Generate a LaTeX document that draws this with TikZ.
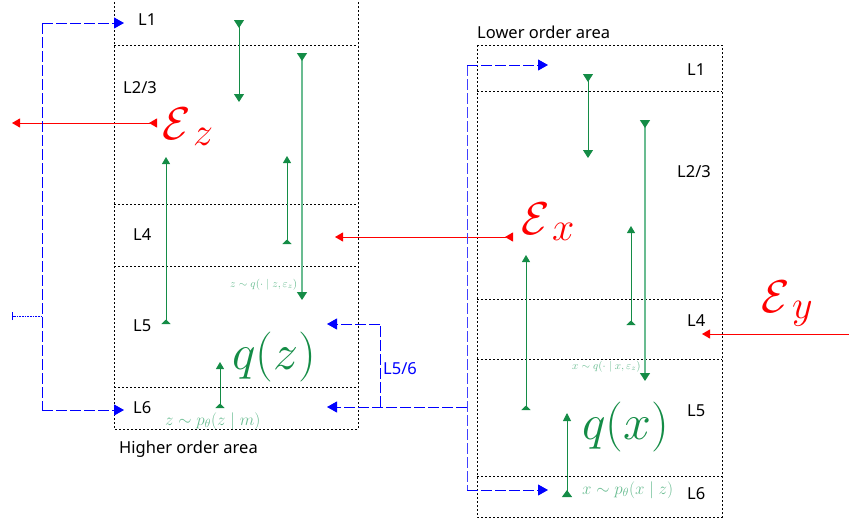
\RequirePackage{fix-cm}
\documentclass[tikz,border=0pt]{standalone}
\usepackage{fontspec}
\setmainfont{Noto Sans}
\usetikzlibrary{arrows.meta}
\definecolor{dg}{RGB}{20,140,70}
\definecolor{lg}{RGB}{105,188,145}
\definecolor{bl}{RGB}{0,0,255}
\definecolor{rd}{RGB}{255,0,0}
\DeclareMathSizes{46}{46}{40}{30}
\DeclareMathSizes{50}{50}{35}{25}
\begin{document}
\begin{tikzpicture}[x=1pt,y=-1pt,
  box/.style={draw=black, line width=0.8pt, dash pattern=on 2pt off 2pt},
  lab/.style={anchor=base west, inner sep=0pt, font=\fontsize{16.5}{19}\selectfont},
  bigm/.style={anchor=base west, inner sep=0pt, font=\fontsize{46}{50}\selectfont, text=rd},
  qm/.style={anchor=base west, inner sep=0pt, font=\fontsize{50}{55}\selectfont, text=dg},
  pm/.style={anchor=base west, inner sep=0pt, font=\fontsize{17}{19}\selectfont, text=lg},
  tm/.style={anchor=base west, inner sep=0pt, font=\fontsize{11}{12}\selectfont, text=lg},
  gdown/.style={draw=dg, line width=1pt, {Triangle[reversed,width=10pt,length=8pt,color=dg]}-{Triangle[width=10pt,length=8pt,color=dg]}},
  gdownl/.style={draw=lg, line width=1.3pt, {Triangle[reversed,width=10pt,length=8pt,color=dg]}-{Triangle[width=10pt,length=8pt,color=dg]}},
  gup/.style={draw=dg, line width=1pt, {Triangle[reversed,width=9pt,length=4.5pt,color=dg]}-{Triangle[width=8pt,length=7pt,color=dg]}},
  gupb/.style={draw=dg, line width=1pt, {Triangle[reversed,width=10pt,length=7pt,color=dg]}-{Triangle[width=8pt,length=8pt,color=dg]}},
  rarr/.style={draw=rd, line width=1pt, {Triangle[reversed,width=9pt,length=8pt]}-{Triangle[width=9pt,length=8pt]}},
  rarr1/.style={draw=rd, line width=1pt, -{Triangle[width=9pt,length=8pt]}},
  bline/.style={draw=bl, line width=1pt, dash pattern=on 11pt off 3pt},
  barr/.style={bline, -{Triangle[width=11pt,length=10pt]}},
]
\useasboundingbox (0,0) rectangle (849,520);

% ---------- Higher order area boxes ----------
\draw[box] (114,-2) rectangle (358,429);
\draw[box] (114,45) -- (358,45);
\draw[box] (114,204) -- (358,204);
\draw[box] (114,266) -- (358,266);
\draw[box] (114,387) -- (358,387);

\node[lab] (hL1) at (138,25) {L1};
\node[lab] (hL23) at (123,93) {L2/3};
\node[lab] (hL4) at (133,240) {L4};
\node[lab] (hL5) at (133,331) {L5};
\node[lab] (hL6) at (133,413) {L6};
\node[lab] (hname) at (119,453) {Higher order area};

% ---------- Lower order area boxes ----------
\draw[box] (477,45) rectangle (722,517);
\draw[box] (477,91) -- (722,91);
\draw[box] (477,299) -- (722,299);
\draw[box] (477,359) -- (722,359);
\draw[box] (477,476) -- (722,476);

\node[lab] (lname) at (477,38) {Lower order area};
\node[lab] (lL1) at (687,75) {L1};
\node[lab] (lL23) at (677,177) {L2/3};
\node[lab] (lL4) at (687,326) {L4};
\node[lab] (lL5) at (687,416) {L5};
\node[lab] (lL6) at (687,499) {L6};

% ---------- math labels ----------
\node[bigm] (ez) at (162,139) {$\mathcal{E}_{\,z}$};
\node[bigm] (ex) at (521,234) {$\mathcal{E}_{\,x}$};
\node[bigm] (ey) at (761,312) {$\mathcal{E}_{\,y}$};
\node[qm] (qz) at (232,369) {$q(z)$};
\node[qm] (qx) at (582,439) {$q(x)$};
\node[pm] (pz) at (165,425) {$z\sim p_\theta(z\mid m)$};
\node[pm] (px) at (582,494) {$x\sim p_\theta(x\mid z)$};
\node[tm] (tz) at (230,287) {$z\sim q(\cdot\mid z,\varepsilon_z)$};
\node[tm] (tx) at (572,369) {$x\sim q(\cdot\mid x,\varepsilon_z)$};

% ---------- green arrows, higher ----------
\coordinate (a1s) at (239,20);  \coordinate (a1e) at (239,102);
\coordinate (a2s) at (302,53);  \coordinate (a2e) at (302,300);
\coordinate (a3s) at (166,324); \coordinate (a3e) at (166,157);
\coordinate (a4s) at (287,244); \coordinate (a4e) at (287,156);
\coordinate (a5s) at (220,408); \coordinate (a5e) at (220,362);
\draw[gdown] (a1s) -- (a1e);
\draw[gdownl] (a2s) -- (a2e);
\draw[gup] (a3s) -- (a3e);
\draw[gup] (a4s) -- (a4e);
\draw[gup] (a5s) -- (a5e);

% ---------- green arrows, lower ----------
\coordinate (b1s) at (588,74);  \coordinate (b1e) at (588,158);
\coordinate (b2s) at (645,120); \coordinate (b2e) at (645,381);
\coordinate (b3s) at (631,325); \coordinate (b3e) at (631,226);
\coordinate (b4s) at (526,410); \coordinate (b4e) at (526,255);
\coordinate (b5s) at (567,497); \coordinate (b5e) at (567,413);
\draw[gdown] (b1s) -- (b1e);
\draw[gdownl] (b2s) -- (b2e);
\draw[gup] (b3s) -- (b3e);
\draw[gup] (b4s) -- (b4e);
\draw[gupb] (b5s) -- (b5e);

% ---------- red arrows ----------
\coordinate (rzs) at (157,123); \coordinate (rze) at (12,123);
\coordinate (rxs) at (513,237); \coordinate (rxe) at (335,237);
\coordinate (rys) at (850,334); \coordinate (rye) at (702,334);
\draw[rarr] (rzs) -- (rze);
\draw[rarr] (rxs) -- (rxe);
\draw[rarr1] (rys) -- (rye);

% ---------- blue connectors ----------
\coordinate (hl1) at (124,23);
\coordinate (hl6) at (124,410);
\coordinate (ltop) at (42,23);
\coordinate (lbot) at (42,410);
\coordinate (ltee) at (42,316);
\coordinate (lteeend) at (12,316);
\draw[bline] (ltop) -- (lbot);
\draw[barr] (ltop) -- (hl1);
\draw[barr] (lbot) -- (hl6);
\draw[draw=bl, line width=1pt, dash pattern=on 1pt off 0.6pt, -{Bar[width=8pt]}] (ltee) -- (lteeend);

\coordinate (r5) at (327,324);
\coordinate (r6) at (327,407);
\coordinate (rc5) at (380,324);
\coordinate (rc6) at (380,407);
\coordinate (rj) at (467,407);
\coordinate (rtop) at (467,65);
\coordinate (rbot) at (467,490);
\coordinate (ll1) at (548,65);
\coordinate (ll6) at (548,490);
\draw[bline] (rc6) -- (rc5);
\draw[barr] (rc5) -- (r5);
\draw[barr] (rj) -- (r6);
\draw[bline, draw=bl!75] (rtop) -- (rbot);
\draw[barr] (rtop) -- (ll1);
\draw[barr] (rbot) -- (ll6);
\node[lab, text=bl] (l56) at (383,374) {L5/6};
\end{tikzpicture}
\end{document}
